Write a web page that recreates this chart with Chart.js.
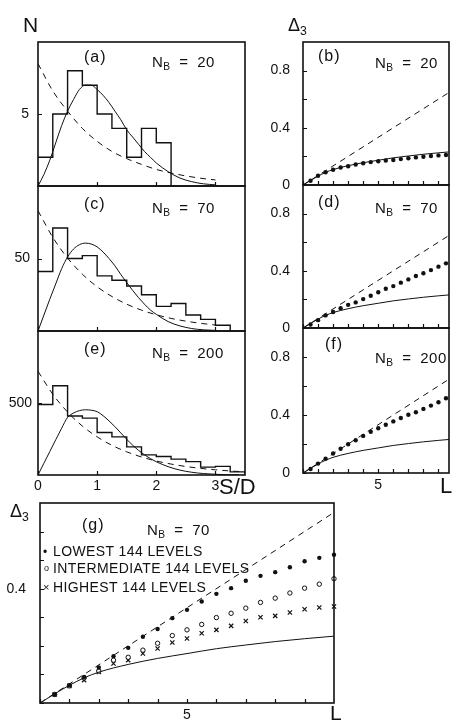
<!DOCTYPE html>
<html>
<head>
<meta charset="utf-8">
<script src="https://cdn.jsdelivr.net/npm/chart.js@4.4.0/dist/chart.umd.min.js"></script>
<style>
body { margin: 0; background: #fff; width: 453px; height: 722px; position: relative; overflow: hidden;
       font-family: "Liberation Sans", Arial, sans-serif; color: #111; }
canvas { position: absolute; left: 0; }
.t { position: absolute; white-space: nowrap; line-height: 1; }
.t sub { font-size: 0.68em; vertical-align: -0.3em; line-height: 0; }
.nb { word-spacing: 4px; letter-spacing: 0.5px; }
.pl { letter-spacing: 1px; }
.lg { letter-spacing: 0.4px; }
</style>
</head>
<body>
<!-- canvases are bigger than their boxes so tick label padding never moves the box -->
<canvas id="cA" width="453" height="200" style="top:16px"></canvas>
<canvas id="cC" width="453" height="201" style="top:160px"></canvas>
<canvas id="cE" width="453" height="200" style="top:305px"></canvas>
<canvas id="cB" width="453" height="199" style="top:16px"></canvas>
<canvas id="cD" width="453" height="199" style="top:159px"></canvas>
<canvas id="cF" width="453" height="201" style="top:302px"></canvas>
<canvas id="cG" width="453" height="256" style="top:477px"></canvas>
<script>
// ---- spacing histograms (left column) ----
var binEdges = [0, 0.25, 0.5, 0.75, 1, 1.25, 1.5, 1.75, 2, 2.25, 2.5, 2.75, 3, 3.25, 3.5];
var countsA = [2, 5, 8, 7, 5, 4, 2, 4, 3];
var countsC = [41, 71, 50, 52, 38, 35, 31, 25, 17, 19, 11, 8, 4];
var countsE = [490, 620, 410, 395, 295, 265, 195, 140, 128, 110, 93, 55, 60, 22];

// GOE (solid) curves
var sGrid = [0, 0.1, 0.2, 0.3, 0.4, 0.5, 0.6, 0.7, 0.8, 0.9, 1.0, 1.1, 1.2, 1.3, 1.4, 1.5, 1.6, 1.7, 1.8, 1.9, 2.0, 2.2, 2.4, 2.6, 2.8, 3.0, 3.2, 3.4];
var goeA = [0, 0.8, 1.8, 3.0, 4.2, 5.2, 6.0, 6.7, 7.0, 7.0, 6.7, 6.3, 5.8, 5.2, 4.6, 3.9, 3.4, 2.9, 2.4, 2.0, 1.6, 1.0, 0.55, 0.3, 0.15, 0.08];
var goeC = [0, 11, 22, 32.5, 43, 51, 56.5, 59.5, 60.6, 60, 58, 54.5, 50, 45, 39, 33.4, 28, 23, 18.5, 14.5, 11.5, 6.5, 3.5, 1.7, 0.8, 0.4];
var goeE = [0, 82, 163, 245, 325, 400, 430, 447, 453, 450, 440, 412, 376, 336, 292, 248, 207, 171, 140, 114, 92, 58, 34, 19, 10, 5, 2, 1];

// Poisson (dashed) curves
var sPois = [0, 0.25, 0.5, 0.75, 1, 1.25, 1.5, 1.75, 2, 2.25, 2.5, 2.75, 3, 3.25, 3.5];
var poisA = [8.5, 6.6, 5.2, 4.0, 3.1, 2.4, 1.9, 1.5, 1.15, 0.9, 0.7, 0.54, 0.42];
var poisC = [83, 64.6, 50.3, 39.2, 30.5, 23.8, 18.5, 14.4, 11.2, 8.7, 6.8, 5.3, 4.1];
var poisE = [720, 561, 437, 340, 265, 206, 161, 125, 97, 76, 59, 46, 36, 28, 22];

// ---- Delta_3 panels ----
var lGrid = [0, 0.5, 1, 1.5, 2, 3, 4, 5, 6, 7, 8, 9, 10];
var goeD3 = [0, 0.032, 0.062, 0.088, 0.108, 0.135, 0.156, 0.173, 0.19, 0.203, 0.215, 0.225, 0.234];
var poisL = [0, 10];
var poisD3 = [0, 0.667];

var dotL = [0.5, 1, 1.5, 2, 2.5, 3, 3.5, 4, 4.5, 5, 5.5, 6, 6.5, 7, 7.5, 8, 8.5, 9, 9.5];
var d3B = [0.03, 0.065, 0.089, 0.107, 0.122, 0.131, 0.143, 0.152, 0.16, 0.166, 0.171, 0.175, 0.181, 0.187, 0.193, 0.198, 0.203, 0.207, 0.21];
var d3D = [0.024, 0.055, 0.088, 0.112, 0.138, 0.162, 0.179, 0.202, 0.226, 0.25, 0.274, 0.293, 0.317, 0.34, 0.364, 0.383, 0.405, 0.429, 0.452];
var d3F = [0.028, 0.065, 0.098, 0.135, 0.167, 0.198, 0.226, 0.256, 0.284, 0.309, 0.333, 0.356, 0.379, 0.402, 0.419, 0.442, 0.465, 0.488, 0.516];

var gL = [0.5, 1, 1.5, 2, 2.5, 3, 3.5, 4, 4.5, 5, 5.5, 6, 6.5, 7, 7.5, 8, 8.5, 9, 9.5, 10];
var lowest = [0.03, 0.062, 0.091, 0.124, 0.164, 0.193, 0.232, 0.259, 0.297, 0.326, 0.355, 0.382, 0.402, 0.428, 0.445, 0.458, 0.475, 0.496, 0.508, 0.519];
var intermediate = [0.03, 0.06, 0.088, 0.112, 0.15, 0.16, 0.185, 0.209, 0.236, 0.256, 0.275, 0.299, 0.314, 0.332, 0.352, 0.367, 0.385, 0.402, 0.416, 0.435];
var highest = [0.03, 0.06, 0.08, 0.109, 0.138, 0.15, 0.173, 0.191, 0.212, 0.226, 0.244, 0.256, 0.27, 0.287, 0.3, 0.305, 0.317, 0.328, 0.334, 0.338];

// tick values and labels
var sTicks = [0, 1, 2, 3];
var sTickLabels = ['0', '1', '2', '3'];
var lTicks = [0, 1, 2, 3, 4, 5, 6, 7, 8, 9];
var lTickLabels = ['', '', '', '', '', '5', '', '', '', ''];
var d3Ticks = [0, 0.2, 0.4, 0.6, 0.8];
var d3TickLabels = ['0', '', '0.4', '', '0.8'];
var gTicks = [0, 0.1, 0.2, 0.3, 0.4, 0.5, 0.6];
var gTickLabels = ['', '', '', '', '0.4', '', ''];

var INK = '#111';
var FONT = '"Liberation Sans", Arial, sans-serif';

function pts(xs, ys) {
    return ys.map(function (y, i) { return {x: xs[i], y: y}; });
}

function hist(counts) {
    var p = counts.map(function (c, i) { return {x: binEdges[i], y: c}; });
    p.push({x: binEdges[counts.length], y: 0});
    return {data: p, showLine: true, stepped: 'before', borderColor: INK, borderWidth: 1.4, pointRadius: 0};
}

function solid(data) {
    return {data: data, showLine: true, cubicInterpolationMode: 'monotone', borderColor: INK, borderWidth: 1, pointRadius: 0};
}

function dashed(data) {
    return {data: data, showLine: true, cubicInterpolationMode: 'monotone', borderColor: INK, borderWidth: 1, borderDash: [6, 5], pointRadius: 0};
}

function dots(data) {
    return {data: data, showLine: false, pointRadius: 2.2, pointBackgroundColor: INK, pointBorderWidth: 0, clip: false};
}

//draws the box and the inward tick marks
var frameTicks = {
    id: 'frameTicks',
    afterDraw: function (chart) {
        var ctx = chart.ctx, a = chart.chartArea, x = chart.scales.x, y = chart.scales.y;
        ctx.save();
        ctx.strokeStyle = INK;
        ctx.lineWidth = 1.2;
        ctx.beginPath();
        x.ticks.forEach(function (t) {
            var p = Math.round(x.getPixelForValue(t.value)) + 0.5;
            ctx.moveTo(p, a.bottom); ctx.lineTo(p, a.bottom - 4);
        });
        y.ticks.forEach(function (t) {
            var p = Math.round(y.getPixelForValue(t.value)) + 0.5;
            ctx.moveTo(a.left, p); ctx.lineTo(a.left + 4, p);
        });
        ctx.stroke();
        ctx.lineWidth = 1.6;
        ctx.strokeRect(a.left, a.top, a.right - a.left, a.bottom - a.top);
        ctx.restore();
    }
};

function axis(spec, fit) {
    return {
        type: 'linear', min: spec.min, max: spec.max,
        grid: {display: false, drawTicks: false},
        border: {display: false},
        afterBuildTicks: function (s) { s.ticks = spec.ticks.map(function (v) { return {value: v}; }); },
        afterFit: fit,
        ticks: {
            display: !!spec.labels, padding: spec.pad || 0, color: INK,
            font: {family: FONT, size: 14},
            callback: function (v, i) { return spec.labels ? spec.labels[i] : ''; }
        }
    };
}

function panel(id, f, xs, ys, datasets) {
    var cv = document.getElementById(id);
    var top = parseInt(cv.style.top, 10);
    var h = cv.height;
    new Chart(cv, {
        type: 'scatter',
        data: {datasets: datasets},
        options: {
            responsive: false, animation: false, events: [],
            layout: {padding: {left: 0, top: f.t - top, right: 453 - f.r, bottom: 0}},
            plugins: {legend: {display: false}, tooltip: {enabled: false}},
            scales: {
                x: axis(xs, function (s) { s.height = top + h - f.b; }),
                y: axis(ys, function (s) { s.width = f.l; })
            }
        },
        plugins: [frameTicks]
    });
}

var sAxis = {min: 0, max: 3.5, ticks: sTicks};
var sAxisLab = {min: 0, max: 3.5, ticks: sTicks, labels: sTickLabels, pad: 3};
var lAxis = {min: 0, max: 9.7, ticks: lTicks};
var lAxisLab = {min: 0, max: 9.7, ticks: lTicks, labels: lTickLabels, pad: 4};
var d3Axis = {min: 0, max: 1, ticks: d3Ticks, labels: d3TickLabels, pad: 13};

panel('cA', {l: 38, t: 42, r: 245, b: 186}, sAxis,
    {min: 0, max: 10, ticks: [5], labels: ['5'], pad: 9},
    [hist(countsA), solid(pts(sGrid, goeA)), dashed(pts(sPois, poisA))]);
panel('cC', {l: 38, t: 186, r: 245, b: 331}, sAxis,
    {min: 0, max: 100, ticks: [50], labels: ['50'], pad: 8},
    [hist(countsC), solid(pts(sGrid, goeC)), dashed(pts(sPois, poisC))]);
panel('cE', {l: 38, t: 331, r: 245, b: 475}, sAxisLab,
    {min: 0, max: 1000, ticks: [500], labels: ['500'], pad: 6},
    [hist(countsE), solid(pts(sGrid, goeE)), dashed(pts(sPois, poisE))]);

panel('cB', {l: 303, t: 42, r: 450, b: 185}, lAxis, d3Axis,
    [solid(pts(lGrid, goeD3)), dashed(pts(poisL, poisD3)), dots(pts(dotL, d3B))]);
panel('cD', {l: 303, t: 185, r: 450, b: 328}, lAxis, d3Axis,
    [solid(pts(lGrid, goeD3)), dashed(pts(poisL, poisD3)), dots(pts(dotL, d3D))]);
panel('cF', {l: 303, t: 328, r: 450, b: 473}, lAxisLab, d3Axis,
    [solid(pts(lGrid, goeD3)), dashed(pts(poisL, poisD3)), dots(pts(dotL, d3F))]);

panel('cG', {l: 40, t: 503, r: 334, b: 703},
    {min: 0, max: 10, ticks: lTicks, labels: lTickLabels, pad: 4},
    {min: 0, max: 0.7, ticks: gTicks, labels: gTickLabels, pad: 14},
    [solid(pts(lGrid, goeD3)), dashed(pts(poisL, poisD3)),
     dots(pts(gL, lowest)),
     {data: pts(gL, intermediate), showLine: false, pointRadius: 2.2, pointBackgroundColor: '#fff', pointBorderColor: INK, pointBorderWidth: 1, clip: false},
     {data: pts(gL, highest), showLine: false, pointStyle: 'crossRot', pointRadius: 3, pointBorderColor: INK, pointBorderWidth: 1.2, clip: false}]);

// ---- text annotations (html, x, baseline, size, class) ----
var notes = [
    ['N', 23, 32, 21],
    ['&Delta;<sub>3</sub>', 288, 31, 18],
    ['&Delta;<sub>3</sub>', 10, 517, 18],
    ['(a)', 84, 63, 16, 'pl'], ['N<sub>B</sub> = 20', 152, 67, 15, 'nb'],
    ['(c)', 84, 210, 16, 'pl'], ['N<sub>B</sub> = 70', 152, 213, 15, 'nb'],
    ['(e)', 84, 355, 16, 'pl'], ['N<sub>B</sub> = 200', 152, 358, 15, 'nb'],
    ['(b)', 318, 62, 16, 'pl'], ['N<sub>B</sub> = 20', 375, 68, 15, 'nb'],
    ['(d)', 318, 208, 16, 'pl'], ['N<sub>B</sub> = 70', 375, 213, 15, 'nb'],
    ['(f)', 325, 350, 16, 'pl'], ['N<sub>B</sub> = 200', 375, 363, 15, 'nb'],
    ['(g)', 82, 531, 16, 'pl'], ['N<sub>B</sub> = 70', 147, 535, 15, 'nb'],
    ['S/D', 219, 495, 22],
    ['L', 440, 494, 22],
    ['L', 330, 720, 21],
    ['&bull;', 43, 556, 12], ['LOWEST 144 LEVELS', 53, 556, 14, 'lg'],
    ['o', 44, 572, 9], ['INTERMEDIATE 144 LEVELS', 53, 573, 14, 'lg'],
    ['&times;', 43, 591, 11], ['HIGHEST 144 LEVELS', 53, 592, 14, 'lg']
];
notes.forEach(function (n) {
    var d = document.createElement('div');
    d.className = 't' + (n[4] ? ' ' + n[4] : '');
    d.innerHTML = n[0];
    d.style.left = n[1] + 'px';
    d.style.top = (n[2] - 0.85 * n[3]) + 'px';
    d.style.fontSize = n[3] + 'px';
    document.body.appendChild(d);
});
</script>
</body>
</html>
